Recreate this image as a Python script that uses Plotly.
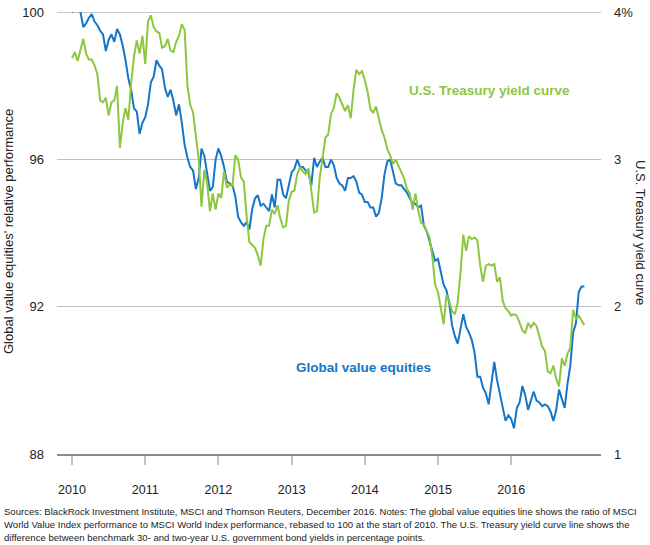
import pandas as pd
import plotly.graph_objects as go

# fortnightly readings, Jan 2010 - Dec 2016
dates = pd.date_range("2010-01-01", "2016-12-31", periods=183)

# Global value equities relative performance (left axis)
value_equities = [
    100.0, 100.1, 100.2, 100.0, 99.6, 99.7, 99.85, 99.95, 99.75, 99.65, 99.5, 99.4, 98.95,
    99.25, 99.4, 99.2, 99.55, 99.4, 99.1, 98.7, 98.2, 97.9, 97.4, 97.3, 96.7, 97.0,
    97.15, 97.5, 98.1, 98.25, 98.7, 98.55, 98.45, 97.95, 97.7, 97.9, 97.6, 97.2, 97.5,
    97.0, 96.4, 96.05, 95.8, 95.7, 95.2, 95.5, 96.3, 96.1, 95.6, 95.15, 95.25, 96.0,
    96.3, 96.1, 95.8, 95.4, 95.35, 95.3, 95.0, 94.45, 94.3, 94.2, 94.3, 94.1, 94.65,
    94.95, 95.03, 94.75, 94.8, 94.7, 94.6, 95.05, 94.7, 95.45, 95.45, 95.05, 94.95, 95.3,
    95.65, 95.75, 96.0, 95.8, 95.8, 95.7, 95.65, 95.3, 96.05, 95.8, 95.95, 96.05, 95.8,
    95.8, 96.0, 95.85, 95.5, 95.35, 95.3, 95.15, 95.5, 95.5, 95.55, 95.4, 95.1, 95.05,
    94.85, 94.85, 94.7, 94.7, 94.45, 94.55, 94.95, 95.6, 95.95, 96.0, 95.7, 95.35, 95.3,
    95.3, 95.2, 95.1, 94.95, 94.8, 94.8, 94.7, 94.75, 94.2, 94.05, 93.8, 93.5, 93.25,
    93.3, 92.95, 92.6, 92.45, 92.1, 91.5, 91.2, 91.0, 91.4, 91.8, 91.45, 91.3, 91.1,
    90.75, 90.1, 90.1, 89.8, 89.65, 89.35, 90.0, 90.5, 90.0, 89.6, 89.3, 88.9, 89.05,
    88.95, 88.7, 89.25, 89.4, 89.85, 89.6, 89.2, 89.45, 89.7, 89.45, 89.4, 89.3, 89.35,
    89.3, 89.15, 88.9, 89.2, 89.75, 89.5, 89.25, 89.9, 90.4, 91.3, 91.55, 92.4, 92.55, 92.55,
]

# 30y minus 2y U.S. Treasury yield spread, % (right axis)
yield_curve = [
    3.69, 3.73, 3.67, 3.75, 3.82, 3.72, 3.68, 3.68, 3.64, 3.58, 3.40, 3.39, 3.42,
    3.30, 3.39, 3.40, 3.50, 3.08, 3.25, 3.35, 3.27, 3.52, 3.70, 3.81, 3.72, 3.84,
    3.65, 3.94, 3.98, 3.90, 3.87, 3.86, 3.76, 3.77, 3.82, 3.74, 3.73, 3.80, 3.84,
    3.92, 3.88, 3.50, 3.37, 3.32, 3.15, 3.00, 2.68, 2.93, 2.84, 2.65, 2.77, 2.66,
    2.77, 2.74, 2.92, 2.81, 2.83, 2.82, 3.03, 3.00, 2.88, 2.85, 2.62, 2.44, 2.42,
    2.40, 2.35, 2.28, 2.46, 2.55, 2.55, 2.66, 2.63, 2.69, 2.60, 2.54, 2.55, 2.72,
    2.78, 2.79, 2.90, 2.95, 2.92, 2.90, 2.94, 2.79, 2.64, 2.65, 2.88, 3.01, 3.15,
    3.17, 3.31, 3.35, 3.45, 3.42, 3.37, 3.33, 3.37, 3.28, 3.47, 3.61, 3.58, 3.60,
    3.54, 3.46, 3.34, 3.32, 3.36, 3.28, 3.20, 3.15, 3.07, 3.03, 2.97, 3.00, 2.96,
    2.92, 2.87, 2.80, 2.77, 2.66, 2.77, 2.65, 2.57, 2.56, 2.52, 2.47, 2.34, 2.15,
    2.10, 1.98, 1.88, 2.08, 2.04, 1.97, 1.95, 2.03, 2.23, 2.49, 2.38, 2.48, 2.46,
    2.47, 2.45, 2.28, 2.17, 2.28, 2.29, 2.28, 2.29, 2.17, 2.20, 2.04, 1.99, 1.97,
    1.94, 1.95, 1.94, 1.89, 1.84, 1.82, 1.89, 1.86, 1.89, 1.87, 1.80, 1.73, 1.70,
    1.56, 1.55, 1.60, 1.51, 1.46, 1.65, 1.60, 1.68, 1.72, 1.98, 1.92, 1.94, 1.91, 1.875,
]

year_ticks = ["2010-01-01", "2011-01-01", "2012-01-01", "2013-01-01",
              "2014-01-01", "2015-01-01", "2016-01-01"]
year_labels = ["2010", "2011", "2012", "2013", "2014", "2015", "2016"]
left_ticks = [88, 92, 96, 100]
right_ticks = [1, 2, 3, 4]
right_labels = ["1", "2", "3", "4%"]

BLUE = "#1476c6"
GREEN = "#8dc63f"
GRID = "#c0c0c0"
FONT = "Liberation Sans, Arial, sans-serif"

W, H = 650, 545
# plot area in page pixels
L, R, T, B = 57, 601, 12, 454


def px(x):
    return (x - L) / (R - L)


def py(y):
    return (B - y) / (B - T)


fig = go.Figure()
fig.add_trace(go.Scatter(x=dates, y=yield_curve, yaxis="y2", mode="lines",
                         line=dict(color=GREEN, width=2), name="U.S. Treasury yield curve"))
fig.add_trace(go.Scatter(x=dates, y=value_equities, mode="lines",
                         line=dict(color=BLUE, width=2), name="Global value equities"))

fig.update_layout(
    template="none",
    width=W, height=H,
    margin=dict(l=L, r=W - R, t=T, b=H - B, autoexpand=False),
    paper_bgcolor="white", plot_bgcolor="white",
    showlegend=False,
    font=dict(family=FONT, color="#222222", size=13),
    xaxis=dict(
        type="date", range=["2009-10-18", "2017-03-24"], automargin=False,
        tickvals=year_ticks, ticktext=year_labels,
        ticks="outside", ticklen=9, tickwidth=1.5, tickcolor="#c4c4c4",
        showgrid=False, zeroline=False,
        showline=True, linecolor="#8c8c8c", linewidth=1.5,
        tickfont=dict(size=12.5), ticklabelstandoff=14,
    ),
    yaxis=dict(
        range=[88, 100.01], tickvals=left_ticks, automargin=False,
        showgrid=True, gridcolor=GRID, gridwidth=1,
        zeroline=False, showline=False, ticks="", ticklabelstandoff=12,
        ticklabeloverflow="allow", tickfont=dict(size=13),
    ),
    yaxis2=dict(
        range=[1, 4.0025], overlaying="y", side="right", automargin=False,
        tickvals=right_ticks, ticktext=right_labels,
        showgrid=False, zeroline=False, showline=False, ticks="", ticklabelstandoff=12,
        ticklabeloverflow="allow", tickfont=dict(size=13),
    ),
)

# top gridline sits on the plot edge, draw it explicitly
fig.add_hline(y=left_ticks[-1], line=dict(color=GRID, width=1), layer="below")

notes = [
    "Sources: BlackRock Investment Institute, MSCI and Thomson Reuters, December 2016. Notes: The global value equities line shows the ratio of MSCI",
    "World Value Index performance to MSCI World Index performance, rebased to 100 at the start of 2010. The U.S. Treasury yield curve line shows the",
    "difference between benchmark 30- and two-year U.S. government bond yields in percentage points.",
]
annotations = [
    dict(x=px(407), y=py(90), text="<b>U.S. Treasury yield curve</b>", xanchor="left",
         font=dict(size=13.5, color=GREEN)),
    dict(x=px(294), y=py(367), text="<b>Global value equities</b>", xanchor="left",
         font=dict(size=13.5, color=BLUE)),
    dict(x=px(8), y=py(232), text="Global value equities' relative performance",
         textangle=-90, xanchor="center", font=dict(size=13)),
    dict(x=px(641), y=py(232), text="U.S. Treasury yield curve",
         textangle=90, xanchor="center", font=dict(size=13)),
]
for i, line in enumerate(notes):
    annotations.append(dict(x=px(2), y=py(511 + 13 * i), text=line, xanchor="left",
                            font=dict(size=9.55, color="#222222")))
for a in annotations:
    a.update(xref="paper", yref="paper", yanchor="middle", showarrow=False)
fig.update_layout(annotations=annotations)

# drop the browser's default 8px body margin so the figure sits at the page corner
fig.write_html("out.html", config={"displayModeBar": False},
               post_script="document.body.style.margin='0';")
